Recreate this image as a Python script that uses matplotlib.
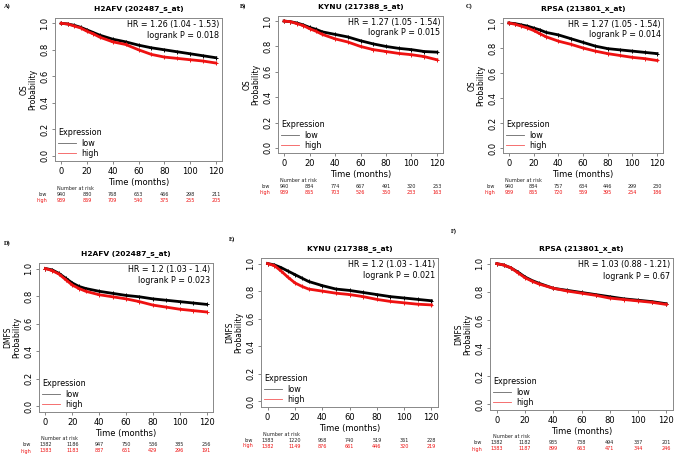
import numpy as np
import matplotlib
matplotlib.use("Agg")
import matplotlib.pyplot as plt
from matplotlib.lines import Line2D
import matplotlib.transforms as mtransforms

W, H = 676, 459

# survival curves (months)
months = [0, 5, 10, 15, 20, 25, 30, 40, 50, 60, 70, 80, 90, 100, 110, 120]

a_low = [1.0, 0.995, 0.985, 0.97, 0.95, 0.93, 0.91, 0.88, 0.86, 0.835, 0.815, 0.80, 0.785, 0.77, 0.755, 0.74]
a_high = [1.0, 0.995, 0.98, 0.965, 0.94, 0.92, 0.895, 0.86, 0.84, 0.80, 0.765, 0.745, 0.735, 0.725, 0.715, 0.70]
b_low = [1.0, 0.995, 0.985, 0.97, 0.95, 0.935, 0.915, 0.895, 0.875, 0.845, 0.82, 0.80, 0.785, 0.775, 0.76, 0.755]
b_high = [1.0, 0.995, 0.98, 0.965, 0.94, 0.92, 0.895, 0.86, 0.835, 0.80, 0.775, 0.76, 0.745, 0.735, 0.72, 0.695]
c_low = [1.0, 0.995, 0.985, 0.975, 0.96, 0.945, 0.925, 0.905, 0.875, 0.845, 0.815, 0.795, 0.785, 0.775, 0.765, 0.755]
c_high = [1.0, 0.99, 0.975, 0.96, 0.94, 0.915, 0.89, 0.855, 0.83, 0.80, 0.775, 0.755, 0.74, 0.725, 0.715, 0.70]
d_low = [1.0, 0.99, 0.965, 0.93, 0.895, 0.87, 0.855, 0.835, 0.82, 0.805, 0.795, 0.78, 0.77, 0.76, 0.75, 0.74]
d_high = [1.0, 0.985, 0.96, 0.92, 0.88, 0.855, 0.835, 0.81, 0.795, 0.78, 0.76, 0.735, 0.72, 0.705, 0.695, 0.685]
e_low = [1.0, 0.99, 0.97, 0.945, 0.92, 0.895, 0.87, 0.84, 0.815, 0.805, 0.79, 0.775, 0.76, 0.75, 0.74, 0.73]
e_high = [1.0, 0.985, 0.945, 0.90, 0.86, 0.835, 0.815, 0.80, 0.785, 0.775, 0.76, 0.74, 0.725, 0.715, 0.705, 0.70]
f_low = [1.0, 0.99, 0.97, 0.94, 0.905, 0.88, 0.86, 0.825, 0.81, 0.795, 0.78, 0.765, 0.75, 0.74, 0.73, 0.715]
f_high = [1.0, 0.99, 0.97, 0.935, 0.90, 0.875, 0.855, 0.825, 0.805, 0.79, 0.775, 0.755, 0.745, 0.735, 0.725, 0.71]

# numbers at risk at 0, 20, ..., 120 months
risk_months = [0, 20, 40, 60, 80, 100, 120]
a_risk_low = [940, 880, 768, 653, 466, 298, 211]
a_risk_high = [939, 869, 709, 540, 375, 255, 205]
b_risk_low = [940, 884, 774, 667, 491, 320, 253]
b_risk_high = [939, 865, 703, 526, 350, 233, 163]
c_risk_low = [940, 884, 757, 634, 446, 299, 230]
c_risk_high = [939, 865, 720, 559, 395, 254, 186]
d_risk_low = [1382, 1186, 947, 750, 536, 385, 256]
d_risk_high = [1383, 1183, 887, 651, 429, 296, 191]
e_risk_low = [1383, 1220, 958, 740, 519, 361, 228]
e_risk_high = [1382, 1149, 876, 661, 446, 320, 219]
f_risk_low = [1382, 1182, 935, 738, 494, 337, 201]
f_risk_high = [1383, 1187, 899, 663, 471, 344, 246]

titles = ["H2AFV (202487_s_at)", "KYNU (217388_s_at)", "RPSA (213801_x_at)"] * 2
letters = ["A)", "B)", "C)", "D)", "E)", "F)"]
ylabels = ["OS\nProbability"] * 3 + ["DMFS\nProbability"] * 3
hr_texts = ["HR = 1.26 (1.04 - 1.53)", "HR = 1.27 (1.05 - 1.54)", "HR = 1.27 (1.05 - 1.54)",
            "HR = 1.2 (1.03 - 1.4)", "HR = 1.2 (1.03 - 1.41)", "HR = 1.03 (0.88 - 1.21)"]
p_texts = ["logrank P = 0.018", "logrank P = 0.015", "logrank P = 0.014",
           "logrank P = 0.023", "logrank P = 0.021", "logrank P = 0.67"]

lows = [a_low, b_low, c_low, d_low, e_low, f_low]
highs = [a_high, b_high, c_high, d_high, e_high, f_high]
risk_lows = [a_risk_low, b_risk_low, c_risk_low, d_risk_low, e_risk_low, f_risk_low]
risk_highs = [a_risk_high, b_risk_high, c_risk_high, d_risk_high, e_risk_high, f_risk_high]

# panel boxes in pixels: left, top, right, bottom ; letter positions
boxes = [(55, 18, 222, 161), (278, 16, 443, 153), (503, 18, 663, 153),
         (39, 263, 213, 412), (261, 258, 438, 407), (490, 258, 673, 410)]
letter_pos = [(4, 6), (240, 6), (466, 6), (4, 243), (229, 239), (451, 231)]

RED = "#ee1111"

fig = plt.figure(figsize=(W / 100, H / 100), dpi=100)
fig.patch.set_facecolor("white")

for i in range(6):
    l, t, r, b = boxes[i]
    ax = fig.add_axes([l / W, 1 - b / H, (r - l) / W, (b - t) / H])

    ax.plot(months, lows[i], color="black", lw=2.0, marker="+", ms=3, mew=0.7)
    ax.plot(months, highs[i], color=RED, lw=2.0, marker="+", ms=3, mew=0.7)

    ax.set_xlim(-4.8, 124.8)
    ax.set_ylim(-0.04, 1.04)
    ax.set_xticks(risk_months)
    ax.set_yticks([0, 0.2, 0.4, 0.6, 0.8, 1.0])
    ax.set_yticklabels(["0.0", "0.2", "0.4", "0.6", "0.8", "1.0"])
    ax.tick_params(labelsize=6, length=2.5, width=0.5, color="#555555", pad=1.5)
    ax.tick_params(axis="y", labelrotation=90)
    for lab in ax.get_yticklabels():
        lab.set_va("center")
    for sp in ax.spines.values():
        sp.set_color("#888888")
        sp.set_linewidth(0.7)

    ax.set_title(titles[i], fontsize=5.4, fontweight="bold", pad=6)
    ax.set_xlabel("Time (months)", fontsize=6, labelpad=2)
    ax.set_ylabel(ylabels[i], fontsize=5.5, labelpad=2, linespacing=1.0)

    ax.text(0.985, 0.955, hr_texts[i], transform=ax.transAxes, ha="right", va="center", fontsize=5.8)
    ax.text(0.985, 0.88, p_texts[i], transform=ax.transAxes, ha="right", va="center", fontsize=5.8)

    handles = [Line2D([], [], color="black", lw=0.6, alpha=0.6),
               Line2D([], [], color=RED, lw=0.6, alpha=0.7)]
    ax.legend(handles, ["low", "high"], title="Expression", loc="lower left",
              frameon=False, fontsize=5.8, title_fontsize=5.8, alignment="left",
              handlelength=2.2, handletextpad=0.6, labelspacing=0.15,
              borderaxespad=0.2, borderpad=0.2)

    # number at risk table
    trans = mtransforms.blended_transform_factory(ax.transData, fig.transFigure)
    y0 = 1 - (b + 27) / H
    y1 = 1 - (b + 33) / H
    y2 = 1 - (b + 39) / H
    ax.text(-3, y0, "Number at risk", transform=trans, ha="left", va="center", fontsize=3.5, color="#222222")
    fig.text((l - 8) / W, y1, "low", ha="right", va="center", fontsize=3.5, color="#222222")
    fig.text((l - 8) / W, y2, "high", ha="right", va="center", fontsize=3.5, color=RED)
    for m, nl, nh in zip(risk_months, risk_lows[i], risk_highs[i]):
        ax.text(m, y1, str(nl), transform=trans, ha="center", va="center", fontsize=3.5, color="#222222", clip_on=False)
        ax.text(m, y2, str(nh), transform=trans, ha="center", va="center", fontsize=3.5, color=RED, clip_on=False)

    lx, ly = letter_pos[i]
    fig.text(lx / W, 1 - ly / H, letters[i], ha="left", va="center", fontsize=4.5,
             fontweight="bold", family="Liberation Serif")

fig.savefig("out.png", dpi=100)
